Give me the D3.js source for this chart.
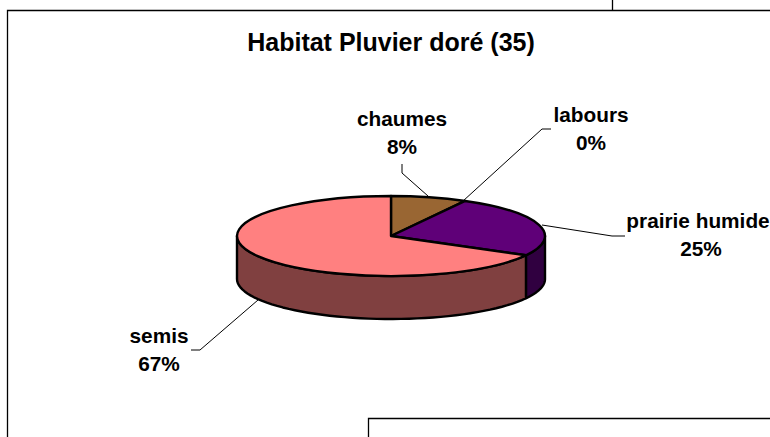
<!DOCTYPE html>
<html>
<head>
<meta charset="utf-8">
<script src="https://cdn.jsdelivr.net/npm/d3@7"></script>
<style>
  html, body { margin: 0; padding: 0; background: #fff; overflow: hidden; }
  text { font-family: "Liberation Sans", Arial, sans-serif; font-weight: bold; fill: #000; }
</style>
</head>
<body>
<div id="chart"></div>
<script>
const categories = ['chaumes', 'labours', 'prairie humide', 'semis'];
const values = [8, 0, 25, 67];
const percentLabels = ['8%', '0%', '25%', '67%'];
const topColors = ['#996633', '#660066', '#5f0078', '#ff8080'];
const sideColors = ['#4d3319', '#330033', '#300040', '#804040'];
const chartTitle = 'Habitat Pluvier doré (35)';

const width = 770, height = 437;
const cx = 391, cy = 236, rx = 154, ry = 40, depth = 43;
const lineGap = 27.5;

// label anchor + leader line for each slice (same order as categories)
const labelPos = [
  { x: 402, y: 126, pctX: 402, line: [[402, 164], [402, 173], [428, 196]] },
  { x: 591, y: 122, pctX: 591, line: [[551, 129], [542, 129], [463, 201]] },
  { x: 698, y: 228, pctX: 701, line: [[625, 236], [612, 236], [542, 225]] },
  { x: 159, y: 343, pctX: 159, line: [[191, 350], [200, 350], [258, 300]] }
];

let svg = d3.select('#chart')
  .append('svg')
  .attr('width', width)
  .attr('height', height);

// frames cut by the screenshot
let frames = svg.append('g')
  .attr('fill', 'none')
  .attr('stroke', '#000')
  .attr('stroke-width', 1.3);
frames.append('path').attr('d', `M7.5,${height} V10.5 H${width}`);
frames.append('path').attr('d', 'M612.5,0 V10');
frames.append('path').attr('d', `M368.5,${height} V418.5 H${width}`);

svg.append('text')
  .attr('x', 391)
  .attr('y', 51)
  .attr('text-anchor', 'middle')
  .style('font-size', '25px')
  .text(chartTitle);

let pie = d3.pie().sort(null).value(d => d)(values);

// angle (clockwise from top) to flattened ellipse point
function rimPoint(a, dy) {
  return [cx + rx * Math.sin(a), cy + (dy || 0) - ry * Math.cos(a)];
}

// side walls, only the front half of the ellipse shows
let wallStep = d3.range(0, 1.0001, 0.02);
function wallPath(d) {
  let a0 = Math.max(d.startAngle, Math.PI / 2);
  let a1 = Math.min(d.endAngle, Math.PI * 3 / 2);
  if (a1 <= a0) return null;
  let angle = d3.scaleLinear().range([a0, a1]);
  let top = wallStep.map(t => rimPoint(angle(t), 0));
  let bottom = wallStep.map(t => rimPoint(angle(t), depth)).reverse();
  return d3.line()(top.concat(bottom)) + 'Z';
}

let pieG = svg.append('g')
  .attr('stroke', '#000')
  .attr('stroke-width', 2.4)
  .attr('stroke-linejoin', 'round');

pieG.selectAll('.wall')
  .data(pie)
  .join('path')
  .attr('class', 'wall')
  .attr('fill', (d, i) => sideColors[i])
  .attr('d', wallPath);

let arc = d3.arc().innerRadius(0).outerRadius(rx);

pieG.append('g')
  .attr('transform', `translate(${cx},${cy}) scale(1,${ry / rx})`)
  .selectAll('.slice')
  .data(pie.filter(d => d.value > 0))
  .join('path')
  .attr('class', 'slice')
  .attr('fill', d => topColors[d.index])
  .attr('vector-effect', 'non-scaling-stroke')
  .attr('d', arc);

// leader lines
svg.append('g')
  .selectAll('path')
  .data(labelPos)
  .join('path')
  .attr('fill', 'none')
  .attr('stroke', '#000')
  .attr('stroke-width', 1)
  .attr('d', d => d3.line()(d.line));

// labels
let labels = svg.append('g')
  .selectAll('text')
  .data(categories)
  .join('text')
  .attr('text-anchor', 'middle')
  .style('font-size', '20.8px');

labels.append('tspan')
  .attr('x', (d, i) => labelPos[i].x)
  .attr('y', (d, i) => labelPos[i].y)
  .text(d => d);

labels.append('tspan')
  .attr('x', (d, i) => labelPos[i].pctX)
  .attr('y', (d, i) => labelPos[i].y + lineGap)
  .text((d, i) => percentLabels[i]);
</script>
</body>
</html>
